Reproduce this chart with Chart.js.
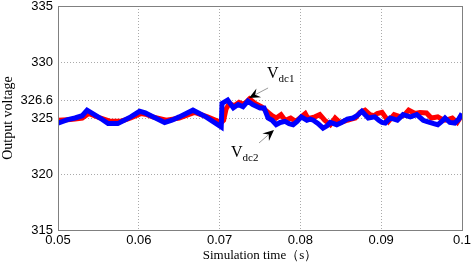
<!DOCTYPE html>
<html>
<head>
<meta charset="utf-8">
<script src="https://cdn.jsdelivr.net/npm/chart.js@4.4.0/dist/chart.umd.min.js"></script>
<style>
  html, body { margin: 0; padding: 0; background: #fff; }
  #wrap { width: 472px; height: 263px; }
</style>
</head>
<body>
<div id="wrap"><canvas id="chart" width="472" height="263"></canvas></div>
<script>
// tick values / labels
const xTicks = [0.05, 0.06, 0.07, 0.08, 0.09, 0.1];
const xTickLabels = ["0.05", "0.06", "0.07", "0.08", "0.09", "0.1"];
const yTicks = [315, 320, 325, 326.6, 330, 335];
const yTickLabels = ["315", "320", "325", "326.6", "330", "335"];

// Vdc2 (blue)
const blueT = [0.05, 0.0512, 0.0521, 0.053, 0.0536, 0.0544, 0.0552, 0.0562, 0.0574, 0.0582,
  0.059, 0.0601, 0.0608, 0.0615, 0.0632, 0.0641, 0.065, 0.0667, 0.0675, 0.0683,
  0.0702, 0.0703, 0.071, 0.0717, 0.0723, 0.0729, 0.0735, 0.0741, 0.075, 0.0755,
  0.076, 0.0765, 0.077, 0.0775, 0.0781, 0.0786, 0.0791, 0.0796, 0.0801, 0.0808,
  0.0812, 0.0816, 0.0822, 0.0828, 0.0833, 0.0837, 0.0845, 0.0851, 0.0858, 0.0865,
  0.087, 0.0876, 0.0884, 0.0892, 0.0897, 0.0901, 0.0905, 0.0911, 0.0916, 0.092,
  0.0927, 0.0936, 0.0944, 0.0952, 0.0956, 0.096, 0.0965, 0.097, 0.0975, 0.0979,
  0.0985, 0.0991, 0.0996, 0.1];
const blueV = [324.55, 324.85, 325.0, 325.2, 325.7, 325.35, 325.0, 324.5, 324.5, 324.8,
  325.1, 325.6, 325.45, 325.2, 324.6, 324.8, 325.1, 325.7, 325.4, 325.1,
  324.2, 326.3, 326.6, 325.9, 326.2, 326.0, 326.5, 326.2, 325.9, 325.9,
  325.0, 324.8, 324.4, 324.6, 324.7, 324.5, 324.4, 324.7, 325.1, 324.8,
  324.9, 324.8, 324.5, 324.1, 324.3, 324.6, 324.4, 324.6, 324.9, 325.0,
  325.2, 325.6, 325.0, 325.1, 324.8, 324.6, 324.55, 325.0, 324.9, 324.8,
  325.3, 325.1, 325.3, 324.8, 324.7, 324.6, 324.5, 324.4, 324.7, 325.0,
  324.6, 324.55, 324.9, 325.4];

// Vdc1 (red)
const redT = [0.05, 0.0512, 0.0521, 0.053, 0.0538, 0.0545, 0.0552, 0.0565, 0.0577, 0.0584,
  0.059, 0.0603, 0.061, 0.0617, 0.0634, 0.0642, 0.065, 0.0669, 0.0677, 0.0685,
  0.0702, 0.0705, 0.0708, 0.0712, 0.0718, 0.0724, 0.073, 0.0737, 0.0744, 0.0752,
  0.076, 0.0765, 0.077, 0.0776, 0.0781, 0.0785, 0.0788, 0.0794, 0.0801, 0.0806,
  0.0809, 0.0813, 0.0818, 0.0824, 0.083, 0.0837, 0.0843, 0.0849, 0.0854, 0.0858,
  0.0863, 0.0868, 0.0874, 0.088, 0.0886, 0.0891, 0.0895, 0.0901, 0.0909, 0.0916,
  0.0924, 0.0929, 0.0934, 0.0942, 0.0948, 0.0956, 0.0962, 0.0966, 0.097, 0.0975,
  0.0979, 0.0984, 0.0988, 0.0994, 0.1];
const redV = [324.8, 324.85, 324.9, 325.0, 325.4, 325.2, 325.0, 324.7, 324.7, 324.85,
  325.0, 325.4, 325.3, 325.1, 324.8, 324.9, 325.0, 325.5, 325.3, 325.1,
  324.6, 324.8, 325.8, 326.3, 326.1, 326.4, 326.2, 326.7, 326.3, 326.0,
  325.5, 325.2, 325.0, 325.3, 324.8, 324.9, 325.0, 324.7, 325.1, 325.4,
  325.0, 325.0, 325.1, 325.3, 324.8, 324.4, 325.0, 324.6, 324.7, 324.8,
  324.9, 325.0, 325.5, 325.7, 325.3, 325.2, 325.4, 325.5, 324.7, 325.3,
  325.1, 325.3, 325.7, 325.4, 325.5, 325.45, 325.0, 325.05, 325.1, 324.9,
  324.8, 324.9, 325.0, 324.6, 325.3];

// annotations in data units: label, text pos, arrow start, arrow tip
const notes = [
  { sub: "dc1", tx: 0.07587, ty: 328.57, x0: 0.0760, y0: 327.68, x1: 0.07364, y1: 326.79 },
  { sub: "dc2", tx: 0.07141, ty: 321.52, x0: 0.07488, y0: 322.77, x1: 0.07673, y1: 323.93 }
];

const toPts = (ts, vs) => ts.map((t, i) => ({ x: t, y: vs[i] }));

const frameAndNotes = {
  id: "frameAndNotes",
  afterDatasetsDraw(chart) {
    const ctx = chart.ctx;
    const a = chart.chartArea;
    const xs = chart.scales.x, ys = chart.scales.y;
    ctx.save();
    ctx.strokeStyle = "#808080";
    ctx.lineWidth = 1;
    ctx.strokeRect(Math.round(a.left) + 0.5, Math.round(a.top) + 0.5,
      Math.round(a.right - a.left), Math.round(a.bottom - a.top));

    notes.forEach(n => {
      const px0 = xs.getPixelForValue(n.x0), py0 = ys.getPixelForValue(n.y0);
      const px1 = xs.getPixelForValue(n.x1), py1 = ys.getPixelForValue(n.y1);
      const ang = Math.atan2(py1 - py0, px1 - px0);
      // shaft
      ctx.strokeStyle = "#999";
      ctx.lineWidth = 1;
      ctx.beginPath();
      ctx.moveTo(px0, py0);
      ctx.lineTo(px1 - 8 * Math.cos(ang), py1 - 8 * Math.sin(ang));
      ctx.stroke();
      // head
      const L = 11, W = 5;
      const bx = px1 - L * Math.cos(ang), by = py1 - L * Math.sin(ang);
      const nx = px1 - 7 * Math.cos(ang), ny = py1 - 7 * Math.sin(ang);
      ctx.fillStyle = "#000";
      ctx.beginPath();
      ctx.moveTo(px1, py1);
      ctx.lineTo(bx + W * Math.sin(ang), by - W * Math.cos(ang));
      ctx.lineTo(nx, ny);
      ctx.lineTo(bx - W * Math.sin(ang), by + W * Math.cos(ang));
      ctx.closePath();
      ctx.fill();
      // label
      const tx = xs.getPixelForValue(n.tx), ty = ys.getPixelForValue(n.ty);
      ctx.fillStyle = "#000";
      ctx.textBaseline = "alphabetic";
      ctx.textAlign = "left";
      ctx.font = "16px 'Liberation Serif', 'Times New Roman', serif";
      ctx.fillText("V", tx, ty);
      const w = ctx.measureText("V").width;
      ctx.font = "11px 'Liberation Serif', 'Times New Roman', serif";
      ctx.fillText(n.sub, tx + w, ty + 4);
    });
    ctx.restore();
  }
};

new Chart(document.getElementById("chart"), {
  type: "line",
  data: {
    datasets: [
      { label: "Vdc2", data: toPts(blueT, blueV), borderColor: "#0000ff", borderWidth: 5,
        pointRadius: 0, tension: 0, fill: false },
      { label: "Vdc1", data: toPts(redT, redV), borderColor: "#ff0000", borderWidth: 5,
        pointRadius: 0, tension: 0, fill: false }
    ]
  },
  options: {
    responsive: false,
    animation: false,
    layout: { padding: { top: 0, right: 0, left: 0, bottom: 0 } },
    plugins: { legend: { display: false }, tooltip: { enabled: false } },
    scales: {
      x: {
        type: "linear", min: 0.05, max: 0.1,
        afterBuildTicks: s => { s.ticks = xTicks.map(v => ({ value: v })); },
        afterFit: s => { s.height = 33; s.paddingLeft = 0; s.paddingRight = 10; },
        ticks: {
          autoSkip: false, maxRotation: 0, padding: 3,
          color: "#000", font: { family: "'Liberation Sans', Arial, sans-serif", size: 13 },
          callback: (v) => xTickLabels[xTicks.indexOf(v)] ?? ""
        },
        grid: { color: "#aaa", drawTicks: false },
        border: { display: false, dash: [1, 2] },
        title: {
          display: true, text: "Simulation time（s）", color: "#000",
          font: { family: "'Liberation Serif', 'Times New Roman', serif", size: 13 },
          padding: { top: 0, bottom: 0 }
        }
      },
      y: {
        type: "linear", min: 315, max: 335,
        afterBuildTicks: s => { s.ticks = yTicks.map(v => ({ value: v })); },
        afterFit: s => { s.width = 58; s.paddingTop = 6; s.paddingBottom = 0; },
        ticks: {
          autoSkip: false, padding: 5,
          color: "#000", font: { family: "'Liberation Sans', Arial, sans-serif", size: 13 },
          callback: (v) => yTickLabels[yTicks.indexOf(v)] ?? ""
        },
        grid: { color: "#aaa", drawTicks: false },
        border: { display: false, dash: [1, 2] },
        title: {
          display: true, text: "Output voltage", color: "#000",
          font: { family: "'Liberation Serif', 'Times New Roman', serif", size: 14 },
          padding: { top: 0, bottom: 0 }
        }
      }
    }
  },
  plugins: [frameAndNotes]
});
</script>
</body>
</html>
